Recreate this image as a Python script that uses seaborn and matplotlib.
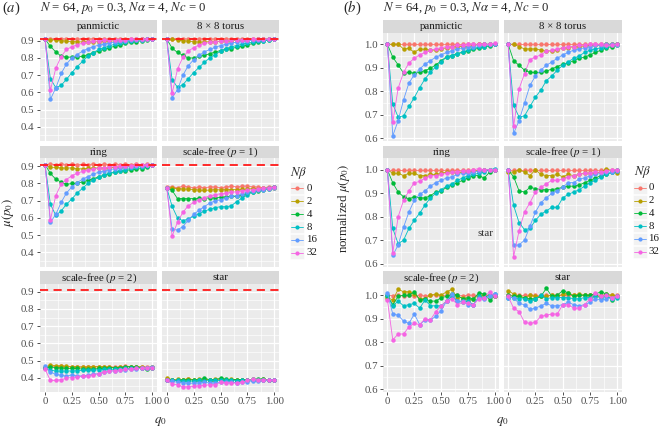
import numpy as np
import pandas as pd
import matplotlib
matplotlib.use("Agg")
import matplotlib.pyplot as plt
import seaborn as sns
from matplotlib.patches import Rectangle

# ---------------- data ----------------
q0 = [0.0, 0.05, 0.10, 0.15, 0.20, 0.25, 0.30, 0.35, 0.40, 0.45, 0.50,
      0.55, 0.60, 0.65, 0.70, 0.75, 0.80, 0.85, 0.90, 0.95, 1.00]
nbeta = ["0", "2", "4", "8", "16", "32"]
facets = ["panmictic", "8 × 8 torus", "ring", "scale-free ($p$ = 1)",
          "scale-free ($p$ = 2)", "star"]
colors = ["#F8766D", "#B79F00", "#00BA38", "#00BFC4", "#619CFF", "#F564E3"]
ref_line = 0.91

# panel (a): mu(p0); rows are N*beta = 0, 2, 4, 8, 16, 32
a_panmictic = [
    [0.91, 0.912, 0.91, 0.913, 0.91, 0.912, 0.91, 0.911, 0.91, 0.912, 0.91, 0.911, 0.91, 0.912, 0.91, 0.911, 0.91, 0.912, 0.91, 0.911, 0.91],
    [0.91, 0.905, 0.905, 0.90, 0.897, 0.895, 0.895, 0.893, 0.895, 0.893, 0.895, 0.897, 0.898, 0.90, 0.90, 0.902, 0.905, 0.905, 0.908, 0.91, 0.91],
    [0.91, 0.867, 0.836, 0.81, 0.805, 0.805, 0.806, 0.81, 0.82, 0.83, 0.84, 0.85, 0.86, 0.868, 0.875, 0.885, 0.89, 0.895, 0.90, 0.905, 0.91],
    [0.91, 0.68, 0.628, 0.641, 0.676, 0.715, 0.75, 0.78, 0.81, 0.83, 0.85, 0.86, 0.87, 0.88, 0.887, 0.893, 0.898, 0.902, 0.905, 0.908, 0.91],
    [0.91, 0.56, 0.625, 0.71, 0.765, 0.80, 0.82, 0.84, 0.855, 0.865, 0.875, 0.88, 0.888, 0.893, 0.897, 0.90, 0.903, 0.905, 0.907, 0.909, 0.91],
    [0.91, 0.612, 0.74, 0.808, 0.85, 0.865, 0.877, 0.886, 0.892, 0.896, 0.90, 0.902, 0.904, 0.905, 0.906, 0.907, 0.908, 0.909, 0.909, 0.91, 0.91],
]
a_torus = [
    [0.91, 0.911, 0.91, 0.912, 0.91, 0.911, 0.91, 0.912, 0.91, 0.911, 0.91, 0.912, 0.91, 0.911, 0.91, 0.912, 0.91, 0.911, 0.91, 0.912, 0.91],
    [0.91, 0.908, 0.905, 0.90, 0.897, 0.895, 0.893, 0.893, 0.895, 0.895, 0.897, 0.90, 0.90, 0.902, 0.903, 0.905, 0.906, 0.908, 0.91, 0.91, 0.91],
    [0.91, 0.857, 0.832, 0.816, 0.80, 0.80, 0.81, 0.815, 0.825, 0.835, 0.843, 0.85, 0.855, 0.862, 0.868, 0.875, 0.885, 0.893, 0.90, 0.905, 0.91],
    [0.91, 0.675, 0.63, 0.645, 0.68, 0.715, 0.745, 0.775, 0.80, 0.82, 0.84, 0.855, 0.865, 0.872, 0.88, 0.887, 0.893, 0.90, 0.90, 0.905, 0.91],
    [0.91, 0.57, 0.615, 0.70, 0.755, 0.79, 0.815, 0.835, 0.85, 0.862, 0.872, 0.88, 0.887, 0.892, 0.897, 0.90, 0.903, 0.905, 0.907, 0.909, 0.91],
    [0.91, 0.595, 0.735, 0.805, 0.84, 0.86, 0.875, 0.885, 0.89, 0.895, 0.898, 0.90, 0.903, 0.905, 0.906, 0.907, 0.908, 0.909, 0.91, 0.91, 0.91],
]
a_ring = [
    [0.91, 0.912, 0.91, 0.913, 0.91, 0.912, 0.91, 0.911, 0.91, 0.912, 0.91, 0.911, 0.91, 0.912, 0.91, 0.911, 0.91, 0.912, 0.91, 0.911, 0.91],
    [0.905, 0.895, 0.893, 0.89, 0.89, 0.89, 0.885, 0.885, 0.888, 0.89, 0.89, 0.89, 0.892, 0.893, 0.895, 0.897, 0.898, 0.90, 0.902, 0.903, 0.905],
    [0.91, 0.858, 0.825, 0.808, 0.795, 0.80, 0.80, 0.81, 0.818, 0.828, 0.838, 0.848, 0.857, 0.865, 0.87, 0.875, 0.88, 0.883, 0.887, 0.893, 0.905],
    [0.91, 0.68, 0.615, 0.64, 0.68, 0.71, 0.745, 0.772, 0.80, 0.82, 0.835, 0.85, 0.86, 0.868, 0.875, 0.88, 0.888, 0.893, 0.898, 0.903, 0.908],
    [0.91, 0.575, 0.62, 0.69, 0.745, 0.78, 0.805, 0.825, 0.84, 0.855, 0.865, 0.873, 0.88, 0.886, 0.89, 0.895, 0.898, 0.90, 0.903, 0.905, 0.908],
    [0.91, 0.588, 0.73, 0.795, 0.823, 0.845, 0.86, 0.87, 0.878, 0.884, 0.888, 0.892, 0.895, 0.898, 0.90, 0.902, 0.903, 0.905, 0.906, 0.907, 0.908],
]
a_sf1 = [
    [0.78, 0.78, 0.775, 0.785, 0.78, 0.775, 0.78, 0.775, 0.78, 0.78, 0.775, 0.78, 0.785, 0.78, 0.785, 0.785, 0.78, 0.78, 0.775, 0.78, 0.78],
    [0.775, 0.772, 0.77, 0.768, 0.767, 0.765, 0.762, 0.76, 0.762, 0.765, 0.762, 0.765, 0.765, 0.765, 0.766, 0.768, 0.77, 0.77, 0.772, 0.775, 0.772],
    [0.775, 0.76, 0.712, 0.712, 0.712, 0.712, 0.713, 0.712, 0.718, 0.715, 0.72, 0.722, 0.725, 0.725, 0.732, 0.742, 0.75, 0.755, 0.762, 0.77, 0.778],
    [0.775, 0.667, 0.60, 0.583, 0.595, 0.61, 0.625, 0.64, 0.65, 0.66, 0.665, 0.665, 0.67, 0.695, 0.715, 0.735, 0.75, 0.76, 0.768, 0.775, 0.78],
    [0.775, 0.533, 0.53, 0.55, 0.587, 0.62, 0.645, 0.666, 0.686, 0.70, 0.705, 0.715, 0.725, 0.73, 0.74, 0.75, 0.755, 0.76, 0.765, 0.77, 0.775],
    [0.775, 0.495, 0.575, 0.633, 0.67, 0.69, 0.705, 0.718, 0.728, 0.735, 0.74, 0.745, 0.748, 0.752, 0.757, 0.76, 0.765, 0.768, 0.772, 0.775, 0.778],
]
a_sf2 = [
    [0.465, 0.47, 0.465, 0.467, 0.465, 0.463, 0.465, 0.462, 0.465, 0.463, 0.465, 0.462, 0.465, 0.462, 0.465, 0.467, 0.465, 0.463, 0.465, 0.462, 0.465],
    [0.46, 0.475, 0.47, 0.47, 0.467, 0.465, 0.465, 0.462, 0.462, 0.465, 0.465, 0.465, 0.462, 0.46, 0.462, 0.462, 0.465, 0.465, 0.463, 0.46, 0.462],
    [0.455, 0.465, 0.458, 0.458, 0.455, 0.455, 0.455, 0.45, 0.452, 0.45, 0.455, 0.455, 0.46, 0.458, 0.46, 0.465, 0.465, 0.462, 0.458, 0.45, 0.46],
    [0.46, 0.445, 0.44, 0.44, 0.44, 0.44, 0.442, 0.443, 0.445, 0.445, 0.447, 0.45, 0.45, 0.45, 0.453, 0.455, 0.455, 0.455, 0.457, 0.458, 0.46],
    [0.468, 0.435, 0.42, 0.415, 0.41, 0.418, 0.41, 0.412, 0.415, 0.42, 0.425, 0.432, 0.44, 0.44, 0.445, 0.448, 0.45, 0.452, 0.455, 0.458, 0.465],
    [0.45, 0.385, 0.385, 0.39, 0.398, 0.402, 0.405, 0.41, 0.413, 0.418, 0.425, 0.435, 0.44, 0.442, 0.446, 0.449, 0.452, 0.455, 0.455, 0.458, 0.46],
]
a_star = [
    [0.39, 0.388, 0.39, 0.39, 0.392, 0.39, 0.39, 0.388, 0.39, 0.39, 0.39, 0.39, 0.39, 0.388, 0.39, 0.39, 0.39, 0.39, 0.39, 0.39, 0.39],
    [0.40, 0.39, 0.392, 0.39, 0.395, 0.39, 0.392, 0.39, 0.39, 0.392, 0.395, 0.39, 0.392, 0.39, 0.39, 0.388, 0.39, 0.39, 0.392, 0.39, 0.388],
    [0.39, 0.385, 0.385, 0.388, 0.39, 0.387, 0.39, 0.398, 0.39, 0.39, 0.397, 0.393, 0.39, 0.39, 0.39, 0.388, 0.392, 0.393, 0.392, 0.385, 0.39],
    [0.388, 0.385, 0.385, 0.383, 0.38, 0.382, 0.385, 0.382, 0.385, 0.385, 0.385, 0.385, 0.385, 0.383, 0.385, 0.385, 0.388, 0.387, 0.388, 0.385, 0.388],
    [0.385, 0.38, 0.375, 0.372, 0.368, 0.37, 0.372, 0.375, 0.37, 0.373, 0.375, 0.378, 0.375, 0.373, 0.375, 0.378, 0.383, 0.383, 0.385, 0.387, 0.39],
    [0.385, 0.365, 0.36, 0.348, 0.348, 0.35, 0.355, 0.357, 0.36, 0.36, 0.375, 0.373, 0.37, 0.37, 0.375, 0.385, 0.392, 0.388, 0.39, 0.387, 0.388],
]

# panel (b): normalized mu(p0)
b_panmictic = [
    [1.0, 1.0, 1.0, 1.0, 1.0, 1.0, 1.0, 1.0, 1.0, 1.0, 1.0, 1.0, 1.0, 1.0, 1.0, 1.0, 1.0, 1.0, 1.0, 1.0, 1.0],
    [1.0, 1.0, 1.0, 0.98, 0.982, 0.966, 0.98, 0.978, 0.975, 0.975, 0.98, 0.985, 0.99, 0.99, 0.99, 0.99, 0.995, 1.0, 1.0, 1.0, 1.0],
    [1.0, 0.945, 0.912, 0.877, 0.88, 0.877, 0.88, 0.888, 0.898, 0.912, 0.929, 0.947, 0.952, 0.96, 0.965, 0.972, 0.978, 0.983, 0.988, 0.993, 1.0],
    [1.0, 0.745, 0.69, 0.695, 0.735, 0.773, 0.815, 0.853, 0.88, 0.905, 0.926, 0.945, 0.952, 0.96, 0.968, 0.975, 0.982, 0.988, 0.99, 0.995, 1.0],
    [1.0, 0.61, 0.675, 0.763, 0.835, 0.87, 0.895, 0.915, 0.93, 0.945, 0.955, 0.965, 0.973, 0.98, 0.985, 0.99, 0.99, 0.995, 1.0, 1.0, 1.0],
    [1.0, 0.667, 0.813, 0.88, 0.92, 0.94, 0.955, 0.965, 0.975, 0.98, 0.985, 0.99, 0.99, 0.995, 0.995, 1.0, 1.0, 1.0, 1.0, 1.0, 1.005],
]
b_torus = [
    [1.0, 1.0, 1.0, 1.0, 1.0, 1.0, 1.0, 1.0, 1.0, 1.0, 1.0, 1.0, 1.0, 1.0, 1.0, 1.0, 1.0, 1.0, 1.0, 1.0, 1.0],
    [1.0, 1.0, 0.99, 0.98, 0.98, 0.98, 0.975, 0.97, 0.972, 0.975, 0.985, 0.985, 0.99, 0.99, 0.993, 0.995, 0.995, 0.997, 1.0, 1.0, 1.0],
    [1.0, 0.93, 0.91, 0.89, 0.88, 0.88, 0.88, 0.885, 0.895, 0.905, 0.915, 0.92, 0.93, 0.94, 0.945, 0.955, 0.965, 0.975, 0.985, 0.99, 0.995],
    [1.0, 0.74, 0.69, 0.695, 0.735, 0.775, 0.805, 0.845, 0.865, 0.89, 0.91, 0.925, 0.94, 0.95, 0.965, 0.975, 0.98, 0.985, 0.99, 0.995, 1.0],
    [1.0, 0.62, 0.675, 0.75, 0.825, 0.865, 0.89, 0.91, 0.925, 0.94, 0.955, 0.965, 0.975, 0.98, 0.985, 0.99, 0.995, 0.995, 1.0, 1.0, 0.995],
    [1.0, 0.65, 0.81, 0.875, 0.935, 0.945, 0.955, 0.97, 0.975, 0.98, 0.985, 0.99, 0.99, 0.995, 0.995, 1.0, 1.0, 1.0, 0.995, 0.995, 1.0],
]
b_ring = [
    [1.0, 1.0, 1.0, 1.0, 1.0, 1.0, 1.0, 1.0, 1.0, 1.0, 1.0, 1.0, 1.0, 1.0, 1.0, 1.0, 1.0, 1.0, 1.0, 1.0, 1.0],
    [1.0, 0.985, 0.985, 0.975, 0.985, 0.985, 0.975, 0.975, 0.98, 0.98, 0.985, 0.99, 0.99, 0.985, 0.99, 0.99, 0.995, 0.995, 1.0, 1.0, 1.0],
    [1.0, 0.944, 0.905, 0.885, 0.876, 0.885, 0.88, 0.88, 0.89, 0.905, 0.91, 0.925, 0.935, 0.945, 0.955, 0.965, 0.975, 0.975, 0.965, 0.99, 1.0],
    [1.0, 0.75, 0.685, 0.70, 0.75, 0.785, 0.815, 0.85, 0.88, 0.90, 0.915, 0.93, 0.94, 0.955, 0.965, 0.975, 0.98, 0.985, 0.99, 1.0, 1.005],
    [1.0, 0.635, 0.68, 0.755, 0.82, 0.87, 0.895, 0.91, 0.93, 0.945, 0.955, 0.965, 0.97, 0.98, 0.985, 0.985, 0.99, 0.995, 1.0, 1.0, 1.0],
    [1.0, 0.645, 0.80, 0.87, 0.91, 0.945, 0.95, 0.965, 0.975, 0.975, 0.98, 0.985, 0.99, 0.99, 0.995, 0.995, 1.0, 1.005, 1.0, 1.0, 1.0],
]
b_sf1 = [
    [1.0, 1.0, 1.0, 1.0, 1.0, 1.0, 1.0, 1.0, 1.0, 1.0, 1.0, 1.0, 1.0, 1.0, 1.0, 1.0, 1.0, 1.0, 1.0, 1.0, 1.0],
    [0.99, 0.99, 1.0, 0.99, 0.975, 1.0, 0.98, 0.975, 0.975, 0.98, 0.97, 0.98, 0.975, 0.98, 0.985, 0.985, 0.985, 0.99, 1.005, 0.995, 0.985],
    [1.0, 0.97, 0.91, 0.905, 0.925, 0.92, 0.915, 0.915, 0.915, 0.92, 0.925, 0.93, 0.93, 0.935, 0.945, 0.955, 0.965, 0.975, 0.98, 0.99, 0.995],
    [1.0, 0.848, 0.775, 0.745, 0.75, 0.785, 0.81, 0.825, 0.84, 0.84, 0.88, 0.895, 0.905, 0.915, 0.93, 0.945, 0.955, 0.97, 0.98, 0.99, 1.0],
    [1.0, 0.678, 0.68, 0.70, 0.76, 0.82, 0.86, 0.88, 0.90, 0.91, 0.925, 0.945, 0.945, 0.96, 0.965, 0.975, 0.98, 0.985, 0.99, 0.99, 0.995],
    [1.0, 0.63, 0.74, 0.82, 0.86, 0.905, 0.925, 0.94, 0.955, 0.955, 0.96, 0.97, 0.975, 0.98, 0.985, 0.985, 0.99, 0.99, 0.995, 1.0, 1.0],
]
b_sf2 = [
    [1.0, 0.998, 1.0, 0.997, 1.0, 0.998, 1.0, 0.997, 1.0, 1.0, 0.998, 1.0, 0.997, 1.0, 0.998, 1.0, 1.0, 0.997, 1.0, 0.998, 1.0],
    [0.99, 0.98, 1.025, 1.015, 1.015, 1.005, 0.985, 0.985, 1.0, 1.005, 1.0, 1.015, 1.025, 0.99, 0.99, 0.98, 0.985, 1.0, 1.0, 1.0, 0.995],
    [0.995, 0.96, 0.995, 1.0, 1.0, 1.015, 0.98, 0.985, 0.975, 0.975, 0.99, 0.995, 1.005, 1.0, 0.985, 0.99, 0.985, 1.01, 1.005, 0.98, 0.995],
    [1.0, 0.955, 0.975, 0.955, 0.96, 0.965, 0.945, 0.98, 0.955, 0.955, 0.955, 0.975, 0.995, 0.975, 0.97, 0.975, 0.96, 0.995, 0.99, 1.0, 1.005],
    [1.01, 0.92, 0.915, 0.89, 0.88, 0.92, 0.875, 0.895, 0.895, 0.91, 0.935, 0.975, 1.005, 0.975, 0.975, 0.96, 0.96, 0.99, 0.985, 0.995, 1.005],
    [0.98, 0.81, 0.835, 0.835, 0.865, 0.88, 0.875, 0.90, 0.895, 0.93, 0.955, 0.975, 0.985, 0.96, 0.97, 0.965, 0.96, 0.985, 0.99, 1.015, 0.995],
]
b_star = [
    [1.0, 1.0, 1.0, 1.0, 1.0, 1.0, 1.0, 1.0, 1.0, 1.0, 1.0, 1.0, 1.0, 1.0, 1.0, 1.0, 1.0, 1.0, 1.0, 1.0, 1.0],
    [1.02, 1.005, 0.995, 0.99, 1.0, 0.995, 0.995, 0.995, 1.0, 0.995, 1.005, 1.01, 1.0, 1.005, 1.0, 1.0, 0.995, 0.995, 1.005, 1.0, 0.995],
    [1.0, 0.995, 0.995, 0.99, 0.985, 0.985, 0.995, 1.03, 0.995, 1.0, 1.02, 1.01, 0.995, 1.0, 1.0, 1.0, 1.005, 1.015, 1.005, 0.98, 0.995],
    [0.99, 0.99, 0.985, 0.985, 0.975, 0.985, 1.0, 0.985, 0.99, 0.99, 0.99, 0.99, 0.985, 0.985, 0.99, 0.99, 0.995, 0.99, 0.995, 0.985, 0.99],
    [0.99, 0.99, 0.965, 0.96, 0.94, 0.945, 0.955, 0.965, 0.955, 0.955, 0.96, 0.97, 0.96, 0.955, 0.96, 0.97, 0.985, 0.98, 0.985, 0.99, 0.995],
    [0.995, 0.945, 0.93, 0.885, 0.88, 0.885, 0.91, 0.915, 0.92, 0.92, 0.96, 0.96, 0.945, 0.945, 0.96, 0.985, 1.01, 0.995, 1.0, 0.99, 0.995],
]

a_data = [a_panmictic, a_torus, a_ring, a_sf1, a_sf2, a_star]
b_data = [b_panmictic, b_torus, b_ring, b_sf1, b_sf2, b_star]

rows = []
for panel, data in (("a", a_data), ("b", b_data)):
    for facet, mat in zip(facets, data):
        for nb, vals in zip(nbeta, mat):
            for q, v in zip(q0, vals):
                rows.append({"panel": panel, "facet": facet, "Nb": nb, "q0": q, "mu": v})
df = pd.DataFrame(rows)

# ---------------- style ----------------
sns.set_theme(style="darkgrid")
plt.rcParams["font.family"] = ["Liberation Serif", "DejaVu Serif"]
plt.rcParams["mathtext.fontset"] = "stix"

W, H = 660, 428
fig = plt.figure(figsize=(6.6, 4.28), dpi=100)
fig.patch.set_facecolor("white")

def px_axes(x0, y0, x1, y1):
    return fig.add_axes([x0 / W, 1 - y1 / H, (x1 - x0) / W, (y1 - y0) / H])

FS = 7.8
row_strip_top = [20.0, 145.5, 271.0]
strip_h = 12.5
panel_h = 108.5

panels = {
    "a": dict(cols=[(40.0, 157.3), (161.7, 279.3)], ylim=(0.318, 0.948),
              xlim=(-0.047, 1.047),
              yt=[0.4, 0.5, 0.6, 0.7, 0.8, 0.9],
              yminor=[0.35, 0.45, 0.55, 0.65, 0.75, 0.85]),
    "b": dict(cols=[(383.3, 499.3), (504.0, 621.7)], ylim=(0.588, 1.05),
              xlim=(-0.038, 1.04),
              yt=[0.6, 0.7, 0.8, 0.9, 1.0],
              yminor=[0.65, 0.75, 0.85, 0.95]),
}

for pkey, spec in panels.items():
    for i, facet in enumerate(facets):
        r, c = divmod(i, 2)
        x0, x1 = spec["cols"][c]
        st = row_strip_top[r]
        # strip
        sax = px_axes(x0, st, x1, st + strip_h)
        sax.set_facecolor("#D9D9D9")
        sax.set_xticks([]); sax.set_yticks([])
        for s in sax.spines.values():
            s.set_visible(False)
        sax.text(0.5, 0.45, facet, ha="center", va="center", fontsize=FS,
                 color="#1A1A1A", transform=sax.transAxes)
        # panel
        ax = px_axes(x0, st + strip_h, x1, st + strip_h + panel_h)
        ax.set_facecolor("#EBEBEB")
        for s in ax.spines.values():
            s.set_visible(False)
        sub = df[(df.panel == pkey) & (df.facet == facet)]
        sns.lineplot(data=sub, x="q0", y="mu", hue="Nb", hue_order=nbeta,
                     palette=colors, marker="o", markersize=3.2,
                     markeredgewidth=0, linewidth=0.6, legend=False,
                     errorbar=None, ax=ax, zorder=3)
        if pkey == "a":
            ax.axhline(ref_line, color="#FF1A1A", lw=1.3, ls=(0, (4.5, 3)), zorder=4)
        ax.set_xlim(*spec["xlim"])
        ax.set_ylim(*spec["ylim"])
        ax.set_xticks([0, 0.25, 0.5, 0.75, 1.0])
        ax.set_xticks([0.125, 0.375, 0.625, 0.875], minor=True)
        ax.set_yticks(spec["yt"])
        ax.set_yticks(spec["yminor"], minor=True)
        ax.set_xticklabels(["0", "0.25", "0.50", "0.75", "1.00"])
        ax.set_yticklabels([f"{v:.1f}" for v in spec["yt"]])
        ax.grid(True, which="major", color="white", lw=0.9)
        ax.grid(True, which="minor", color="white", lw=0.45)
        ax.set_axisbelow(True)
        ax.set_xlabel(""); ax.set_ylabel("")
        ax.tick_params(which="minor", length=0)
        ax.tick_params(which="major", length=2.4, width=0.6, color="#333333",
                       labelsize=FS, labelcolor="#4D4D4D", pad=1.5)
        ax.tick_params(axis="x", bottom=(r == 2), labelbottom=(r == 2))
        ax.tick_params(axis="y", left=(c == 0), labelleft=(c == 0))

# ---------------- overlay texts & legends ----------------
ov = fig.add_axes([0, 0, 1, 1])
ov.set_xlim(0, W); ov.set_ylim(H, 0)
ov.axis("off")
ov.patch.set_alpha(0)

ov.text(2, 8, "($a$)", fontsize=10.5, ha="left", va="center")
ov.text(40, 7.5, r"$N$ = 64, $p_0$ = 0.3, $N\alpha$ = 4, $Nc$ = 0", fontsize=9.2,
        ha="left", va="center")
ov.text(343, 8, "($b$)", fontsize=10.5, ha="left", va="center")
ov.text(383, 7.5, r"$N$ = 64, $p_0$ = 0.3, $N\alpha$ = 4, $Nc$ = 0", fontsize=9.2,
        ha="left", va="center")

ov.text(8, 213, r"$\mu(p_0)$", rotation=90, fontsize=9.3, ha="center", va="center")
ov.text(343.5, 208, r"normalized $\mu(p_0)$", rotation=90, fontsize=9.3,
        ha="center", va="center")
ov.text(160, 421, r"$q_0$", fontsize=9.3, ha="center", va="center")
ov.text(502, 421, r"$q_0$", fontsize=9.3, ha="center", va="center")
ov.text(485, 233, "star", fontsize=FS, ha="center", va="center", color="#333333")

def draw_legend(kx, ty, y0, step, label_dx):
    ov.text(kx - 6.5, ty, r"$N\beta$", fontsize=9.3, ha="left", va="center")
    for j, (lab, col) in enumerate(zip(nbeta, colors)):
        yc = y0 + j * step
        ov.add_patch(Rectangle((kx - 7, yc - step / 2 + 0.4), 14, step - 0.8,
                               facecolor="#F2F2F2", edgecolor="white", lw=0.4))
        ov.plot([kx - 6, kx + 6], [yc, yc], color=col, lw=0.6)
        ov.plot([kx], [yc], marker="o", color=col, markersize=3.0, markeredgewidth=0)
        ov.text(kx + label_dx, yc, lab, fontsize=FS, ha="left", va="center",
                color="#1A1A1A")

draw_legend(297.0, 172.5, 188.3, 12.9, 9.5)
draw_legend(640.0, 171.5, 187.7, 12.8, 8.5)

fig.savefig("out.png", dpi=100, facecolor="white")
